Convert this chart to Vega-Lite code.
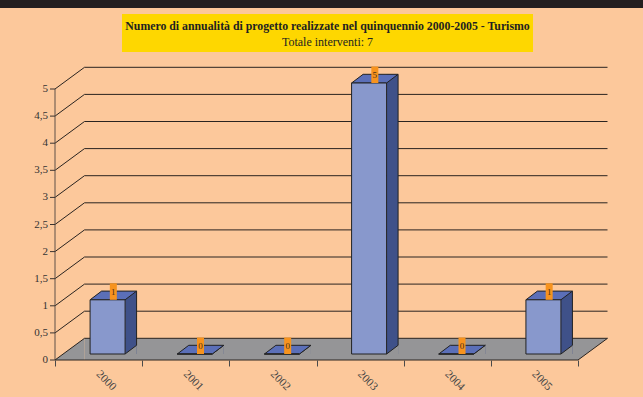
{
  "$schema": "https://vega.github.io/schema/vega-lite/v6.json",
  "background": "#FCC89B",
  "padding": {"left": 0, "top": 0, "right": 0, "bottom": 5},
  "config": {
    "view": {"stroke": null},
    "font": "Liberation Serif",
    "locale": {"number": {"decimal": ",", "thousands": ".", "grouping": [3], "currency": ["", " €"]}},
    "axisY": {"disable": true}
  },
  "datasets": {
    "bars": [
      {"year": "2000", "value": 1},
      {"year": "2001", "value": 0},
      {"year": "2002", "value": 0},
      {"year": "2003", "value": 5},
      {"year": "2004", "value": 0},
      {"year": "2005", "value": 1}
    ],
    "grid": [
      {"v": 0}, {"v": 0.5}, {"v": 1}, {"v": 1.5}, {"v": 2}, {"v": 2.5},
      {"v": 3}, {"v": 3.5}, {"v": 4}, {"v": 4.5}, {"v": 5}
    ],
    "one": [{"k": 1}],
    "titles": [
      {"t1": "Numero di annualità di progetto realizzate nel quinquennio 2000-2005 - Turismo", "t2": "Totale interventi: 7"}
    ]
  },
  "spacing": 6,
  "center": true,
  "bounds": "flush",
  "vconcat": [
    {
      "width": 643,
      "height": 8,
      "data": {"name": "one"},
      "mark": {"type": "rect", "color": "#231F20"},
      "encoding": {}
    },
    {
      "width": 423,
      "height": 38,
      "data": {"name": "titles"},
      "layer": [
        {
          "mark": {"type": "rect", "color": "#FED700", "xOffset": 12},
          "encoding": {
            "x": {"datum": 0, "type": "quantitative", "scale": {"domain": [0, 1], "nice": false}, "axis": null},
            "x2": {"datum": 1}
          }
        },
        {
          "mark": {"type": "text", "fontWeight": "bold", "fontSize": 11.8, "dx": 6, "dy": -3.5, "baseline": "alphabetic", "align": "center", "color": "#231F20", "font": "Liberation Serif"},
          "encoding": {"text": {"field": "t1"}}
        },
        {
          "mark": {"type": "text", "fontSize": 12, "dx": 6, "dy": 12.5, "baseline": "alphabetic", "align": "center", "color": "#231F20", "font": "Liberation Serif"},
          "encoding": {"text": {"field": "t2"}}
        }
      ]
    },
    {
      "width": 533,
      "height": 302,
      "data": {"name": "bars"},
      "layer": [
        {
          "data": {"name": "one"},
          "mark": {"type": "rect", "color": "#959597", "xOffset": 29.5, "yOffset": -21.7},
          "encoding": {
            "x": {
              "datum": "2000", "type": "ordinal", "bandPosition": 0,
              "scale": {"type": "band", "domain": ["2000", "2001", "2002", "2003", "2004", "2005"], "paddingInner": 0, "paddingOuter": 0.0573, "align": 0, "round": false},
              "axis": {"title": null, "domain": false, "grid": false, "tickBand": "extent", "tickSize": 6, "tickColor": "#4a4a4a", "labelAngle": 45, "labelAlign": "left", "labelBaseline": "top", "labelPadding": 2, "labelOffset": 3, "labelFontSize": 11.5, "labelColor": "#444444", "labelFont": "Liberation Serif"}
            },
            "x2": {"datum": "2005", "bandPosition": 1},
            "y": {
              "datum": 0, "type": "quantitative",
              "scale": {"domain": [0, 5], "range": [302, 31], "nice": false, "zero": true}
            },
            "y2": {"datum": 0}
          }
        },
        {
          "data": {"name": "one"},
          "mark": {"type": "point", "shape": "M0,0L29.5,0L29.5,-21.7Z", "size": 4, "filled": true, "fill": "#959597", "strokeWidth": 0, "opacity": 1},
          "encoding": {
            "x": {"datum": "2000", "type": "ordinal", "bandPosition": 0},
            "y": {"datum": 0, "type": "quantitative"}
          }
        },
        {
          "data": {"name": "one"},
          "mark": {"type": "point", "shape": "M0,0L29.5,-21.7L0,-21.7Z", "size": 4, "filled": true, "fill": "#959597", "strokeWidth": 0, "opacity": 1},
          "encoding": {
            "x": {"datum": "2005", "type": "ordinal", "bandPosition": 1},
            "y": {"datum": 0, "type": "quantitative"}
          }
        },
        {
          "data": {"name": "grid"},
          "mark": {"type": "rule", "color": "#2a2420", "strokeWidth": 1, "xOffset": 29.5, "x2Offset": 29.5, "yOffset": -21.7},
          "encoding": {
            "x": {"datum": "2000", "type": "ordinal", "bandPosition": 0},
            "x2": {"datum": "2005", "bandPosition": 1},
            "y": {"field": "v", "type": "quantitative", "title": null}
          }
        },
        {
          "data": {"name": "grid"},
          "mark": {"type": "rule", "color": "#2a2420", "strokeWidth": 1, "x2Offset": 29.5, "y2Offset": -21.7},
          "encoding": {
            "x": {"datum": "2000", "type": "ordinal", "bandPosition": 0},
            "x2": {"datum": "2000", "bandPosition": 0},
            "y": {"field": "v", "type": "quantitative", "title": null},
            "y2": {"field": "v"}
          }
        },
        {
          "data": {"name": "one"},
          "mark": {"type": "rule", "color": "#5e5048", "strokeWidth": 1},
          "encoding": {
            "x": {"datum": "2000", "type": "ordinal", "bandPosition": 0},
            "y": {"datum": 0, "type": "quantitative"},
            "y2": {"datum": 5}
          }
        },
        {
          "data": {"name": "grid"},
          "mark": {"type": "rule", "color": "#3a3330", "strokeWidth": 1, "xOffset": -5},
          "encoding": {
            "x": {"datum": "2000", "type": "ordinal", "bandPosition": 0},
            "x2": {"datum": "2000", "bandPosition": 0},
            "y": {"field": "v", "type": "quantitative"}
          }
        },
        {
          "data": {"name": "grid"},
          "mark": {"type": "text", "align": "right", "baseline": "middle", "fontSize": 11, "font": "Liberation Serif", "color": "#333333", "xOffset": -7},
          "encoding": {
            "x": {"datum": "2000", "type": "ordinal", "bandPosition": 0},
            "y": {"field": "v", "type": "quantitative"},
            "text": {"field": "v", "type": "quantitative", "format": "~g"}
          }
        },
        {
          "data": {"name": "one"},
          "mark": {"type": "rule", "color": "#2a2420", "strokeWidth": 1},
          "encoding": {
            "x": {"datum": "2000", "type": "ordinal", "bandPosition": 0},
            "x2": {"datum": "2005", "bandPosition": 1},
            "y": {"datum": 0, "type": "quantitative"}
          }
        },
        {
          "data": {"name": "one"},
          "mark": {"type": "rule", "color": "#2a2420", "strokeWidth": 1, "x2Offset": 29.5, "y2Offset": -21.7},
          "encoding": {
            "x": {"datum": "2005", "type": "ordinal", "bandPosition": 1},
            "x2": {"datum": "2005", "bandPosition": 1},
            "y": {"datum": 0, "type": "quantitative"},
            "y2": {"datum": 0}
          }
        },
        {
          "mark": {"type": "bar", "color": "#3F5189", "width": 11.5, "xOffset": 32.25, "yOffset": -14.7, "y2Offset": -6},
          "encoding": {
            "x": {"field": "year", "type": "ordinal", "title": null},
            "y": {"field": "value", "type": "quantitative", "title": null},
            "y2": {"datum": 0}
          }
        },
        {
          "mark": {"type": "point", "shape": "M0,0L11.5,0L11.5,-8.7Z", "size": 4, "filled": true, "fill": "#959597", "strokeWidth": 0, "opacity": 1, "xOffset": 26.5, "yOffset": -6},
          "encoding": {
            "x": {"field": "year", "type": "ordinal"},
            "y": {"datum": 0, "type": "quantitative"}
          }
        },
        {
          "mark": {"type": "rule", "color": "#222222", "strokeWidth": 1, "xOffset": 38, "yOffset": -14.7, "y2Offset": -14.7},
          "encoding": {
            "x": {"field": "year", "type": "ordinal"},
            "y": {"field": "value", "type": "quantitative"},
            "y2": {"datum": 0}
          }
        },
        {
          "mark": {"type": "rule", "color": "#222222", "strokeWidth": 1, "xOffset": 26.5, "x2Offset": 38, "yOffset": -6, "y2Offset": -14.7},
          "encoding": {
            "x": {"field": "year", "type": "ordinal"},
            "x2": {"field": "year"},
            "y": {"datum": 0, "type": "quantitative"},
            "y2": {"datum": 0}
          }
        },
        {
          "mark": {"type": "point", "shape": "M-17.5,0L17.5,0L29,-8.7L-6,-8.7Z", "size": 4, "filled": true, "fill": "#5B6FB8", "stroke": "#222222", "strokeWidth": 1, "opacity": 1, "xOffset": 9, "yOffset": -6},
          "encoding": {
            "x": {"field": "year", "type": "ordinal"},
            "y": {"field": "value", "type": "quantitative"}
          }
        },
        {
          "mark": {"type": "bar", "fill": "#8898CC", "stroke": "#222222", "strokeWidth": 1, "width": 35, "xOffset": 9, "yOffset": -6, "y2Offset": -6},
          "encoding": {
            "x": {"field": "year", "type": "ordinal"},
            "y": {"field": "value", "type": "quantitative"},
            "y2": {"datum": 0}
          }
        },
        {
          "mark": {"type": "bar", "fill": "#F7931E", "width": 7, "xOffset": 14.75, "yOffset": -22.5, "y2Offset": -6},
          "encoding": {
            "x": {"field": "year", "type": "ordinal"},
            "y": {"field": "value", "type": "quantitative"},
            "y2": {"field": "value"}
          }
        },
        {
          "mark": {"type": "text", "fontSize": 9, "font": "Liberation Serif", "color": "#4a3018", "align": "center", "baseline": "middle", "xOffset": 14.75, "yOffset": -14.3},
          "encoding": {
            "x": {"field": "year", "type": "ordinal"},
            "y": {"field": "value", "type": "quantitative"},
            "text": {"field": "value", "type": "quantitative"}
          }
        }
      ]
    }
  ]
}
